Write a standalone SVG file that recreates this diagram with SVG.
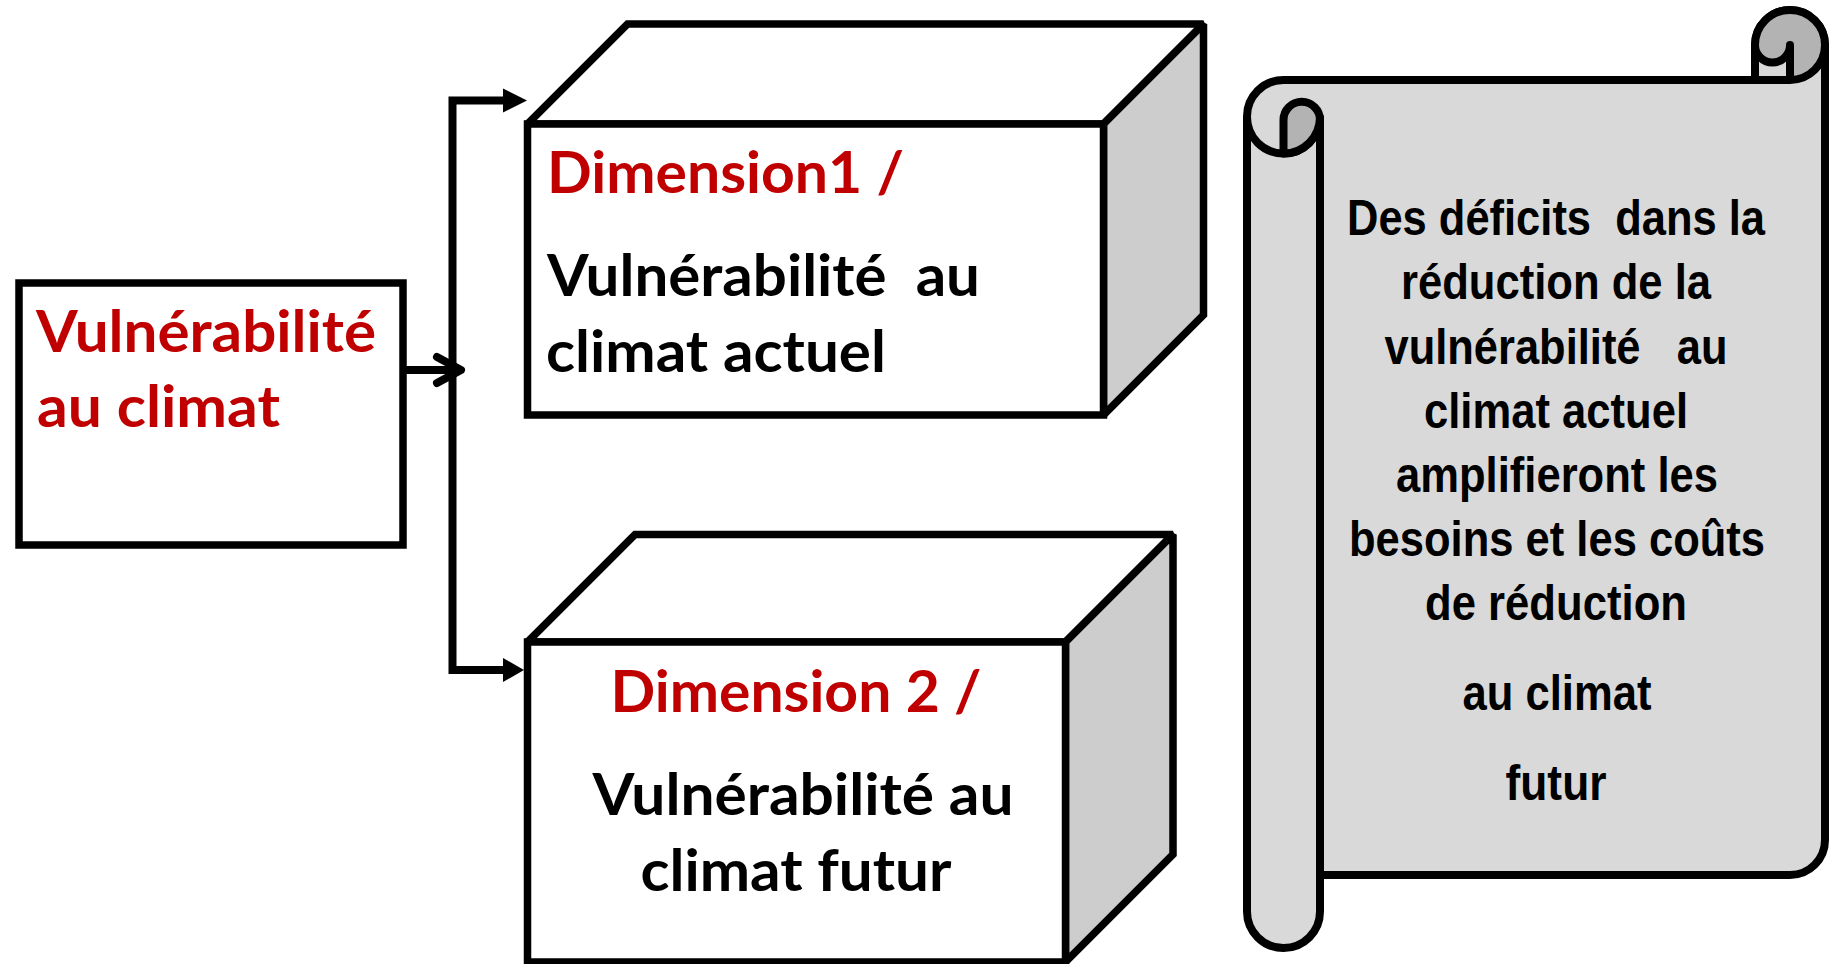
<svg xmlns="http://www.w3.org/2000/svg" width="1829" height="964" viewBox="0 0 1829 964">
<defs>
<style>
.ol{stroke:#000;stroke-width:7.5;stroke-linejoin:miter;stroke-miterlimit:2}
.front{fill:#fff}
.side{fill:#cdcdcd}
.top{fill:#fff}
.t{font-family:Lato,"Open Sans","Liberation Sans",sans-serif;font-weight:700;font-size:58px;white-space:pre}
.red{fill:#c00000}
.blk{fill:#000}
.mid{text-anchor:middle}
.s{font-family:"Liberation Sans Narrow","Liberation Sans",sans-serif;font-stretch:condensed;font-weight:700;font-size:50px;fill:#000;text-anchor:middle;white-space:pre}
.con{stroke:#000;stroke-width:8;fill:none;stroke-linejoin:miter}
.head{fill:#000;stroke:none}
.sc{stroke:#000;stroke-width:8;stroke-linejoin:round}
.sheet{fill:#d9d9d9}
.dark{fill:#b3b3b3}
</style>
</defs>
<rect width="1829" height="964" fill="#fff"/>

<g id="connectors">
  <path class="con" d="M403,370 H458"/>
  <polyline class="con" points="437,357 461,370 437,383" style="stroke-linecap:round;stroke-linejoin:round"/>
  <path class="con" d="M505,100.5 H452.5 V670 H505"/>
  <polygon class="head" points="503,88.5 527,100.5 503,112.5"/>
  <polygon class="head" points="503,658 524,670 503,682"/>
</g>

<g id="node-source">
  <rect class="ol" x="19" y="283" width="384" height="262" fill="#fff"/>
  <text class="t red" x="36" y="352" textLength="340" lengthAdjust="spacingAndGlyphs">Vulnérabilité</text>
  <text class="t red" x="37" y="427" textLength="243" lengthAdjust="spacingAndGlyphs">au climat</text>
</g>

<g id="node-dim1">
  <polygon class="ol top" points="527.5,124 627.5,24 1203.5,24 1103.5,124"/>
  <polygon class="ol side" points="1103.5,124 1203.5,24 1203.5,315 1103.5,415"/>
  <rect class="ol front" x="527.5" y="124" width="576" height="291"/>
  <text class="t red" x="547" y="193" textLength="357" lengthAdjust="spacingAndGlyphs">Dimension1 /</text>
  <text class="t blk" x="547" y="296" textLength="433" lengthAdjust="spacingAndGlyphs">Vulnérabilité  au</text>
  <text class="t blk" x="546" y="372" textLength="340" lengthAdjust="spacingAndGlyphs">climat actuel</text>
</g>

<g id="node-dim2">
  <polygon class="ol top" points="527.5,642 635,534.5 1173,534.5 1065.5,642"/>
  <polygon class="ol side" points="1065.5,642 1173,534.5 1173,854.5 1065.5,962"/>
  <rect class="ol front" x="527.5" y="642" width="538" height="320"/>
  <text class="t red mid" x="796" y="712" textLength="371" lengthAdjust="spacingAndGlyphs">Dimension 2 /</text>
  <text class="t blk mid" x="803" y="815" textLength="421" lengthAdjust="spacingAndGlyphs">Vulnérabilité au</text>
  <text class="t blk mid" x="796" y="891" textLength="311" lengthAdjust="spacingAndGlyphs">climat futur</text>
</g>

<g id="node-scroll">
  <path class="sc sheet" d="M1283.5,80 H1755 V45 A35,35 0 0 1 1825,45 V840 A35,35 0 0 1 1790,875 H1320 V911.5 A36.5,36.5 0 0 1 1247,911.5 V117 A36.5,36.5 0 0 1 1283.5,80 Z"/>
  <path class="sc" fill="none" d="M1320,120 V875"/>
  <path class="sc" fill="none" d="M1247,117 A36.5,36.5 0 0 0 1320,117"/>
  <path class="sc dark" d="M1283.5,153.5 V120 A18.25,18.25 0 0 1 1320,120 V117 A36.5,36.5 0 0 1 1283.5,153.5 Z"/>
  <path class="sc dark" d="M1755,45 A35,35 0 0 1 1825,45 A35,35 0 0 1 1790,80 V45 A17.5,17.5 0 0 1 1755,45 Z"/>
  <path class="sc" fill="none" d="M1755,80 H1790"/>
  <text class="s" x="1556" y="235" textLength="418" lengthAdjust="spacingAndGlyphs">Des déficits  dans la</text>
  <text class="s" x="1556" y="299" textLength="310" lengthAdjust="spacingAndGlyphs">réduction de la</text>
  <text class="s" x="1556" y="364" textLength="343" lengthAdjust="spacingAndGlyphs">vulnérabilité   au</text>
  <text class="s" x="1556" y="428" textLength="264" lengthAdjust="spacingAndGlyphs">climat actuel</text>
  <text class="s" x="1557" y="492" textLength="322" lengthAdjust="spacingAndGlyphs">amplifieront les</text>
  <text class="s" x="1557" y="556" textLength="416" lengthAdjust="spacingAndGlyphs">besoins et les coûts</text>
  <text class="s" x="1556" y="620" textLength="262" lengthAdjust="spacingAndGlyphs">de réduction</text>
  <text class="s" x="1557" y="710" textLength="189" lengthAdjust="spacingAndGlyphs">au climat</text>
  <text class="s" x="1556" y="800" textLength="101" lengthAdjust="spacingAndGlyphs">futur</text>
</g>
</svg>
